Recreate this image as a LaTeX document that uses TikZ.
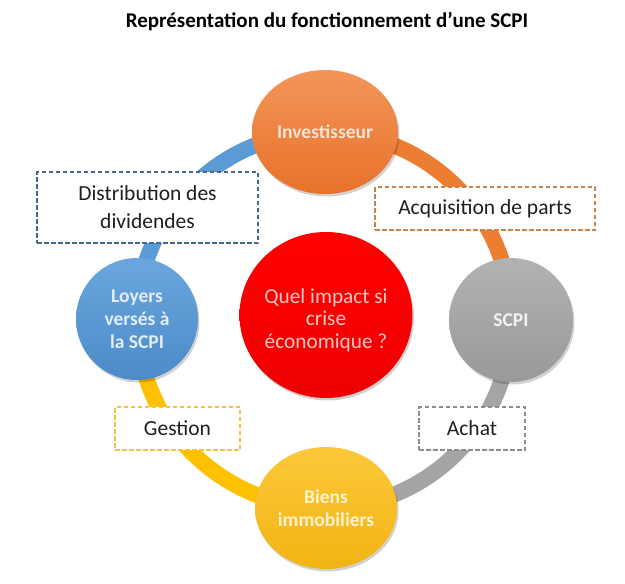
\documentclass[tikz,border=0pt]{standalone}
\usepackage{fontspec}
\setmainfont{Carlito}
\usetikzlibrary{shapes.geometric,shadows}
\pgfdeclarelayer{background}
\pgfsetlayers{background,main}
\definecolor{cOrange}{HTML}{ED7D31}
\definecolor{cOrangeTop}{HTML}{F39559}
\definecolor{cOrangeBot}{HTML}{E8722A}
\definecolor{cGrey}{HTML}{A5A5A5}
\definecolor{cGreyTop}{HTML}{B2B2B2}
\definecolor{cGreyBot}{HTML}{999999}
\definecolor{cBlue}{HTML}{5B9BD5}
\definecolor{cBlueTop}{HTML}{6BA6DD}
\definecolor{cBlueBot}{HTML}{4C8BC9}
\definecolor{cYellow}{HTML}{FFC000}
\definecolor{cYellowTop}{HTML}{FCC83A}
\definecolor{cYellowBot}{HTML}{F2B414}
\definecolor{cRed}{HTML}{FF0000}
\definecolor{cRedBot}{HTML}{EE0000}
\definecolor{tOrange}{HTML}{FBE3D3}
\definecolor{tGrey}{HTML}{F2F2F2}
\definecolor{tBlue}{HTML}{E2EEF9}
\definecolor{tYellow}{HTML}{FFF3CF}
\definecolor{tRed}{HTML}{F9C4C4}
\definecolor{bBlue}{HTML}{44698F}
\definecolor{bOrange}{HTML}{C8834A}
\definecolor{bYellow}{HTML}{F0C640}
\definecolor{bGrey}{HTML}{8C8C8C}
\begin{document}
\begin{tikzpicture}[x=1pt,y=1pt,
  bubble/.style={shape=ellipse, inner sep=-14pt, align=center,
    font=\fontsize{19.5}{23}\selectfont\bfseries,
    drop shadow={shadow xshift=1.5pt, shadow yshift=-2.5pt, opacity=0.18, fill=black}},
  ringarc/.style={line width=16pt},
  tagbox/.style={draw, line width=1.8pt, dash pattern=on 4.5pt off 2.5pt, fill=white,
    minimum height=43pt, inner sep=0pt, align=center,
    font=\fontsize{21.5}{28}\selectfont, text=black!88}
]
\useasboundingbox (0,0) rectangle (625,-584);
\node[font=\fontsize{21}{24}\selectfont\bfseries] (title) at (327,-22) {Représentation du fonctionnement d’une SCPI};

\node[bubble, minimum width=146pt, minimum height=124pt, top color=cOrangeTop, bottom color=cOrangeBot, text=tOrange] (inv) at (325,-132) {Investisseur};
\node[bubble, minimum width=124pt, minimum height=124pt, top color=cGreyTop, bottom color=cGreyBot, text=tGrey] (scpi) at (511,-320) {SCPI};
\node[bubble, minimum width=142pt, minimum height=122pt, top color=cYellowTop, bottom color=cYellowBot, text=tYellow] (biens) at (326,-508) {Biens\\immobiliers};
\node[bubble, minimum width=122pt, minimum height=122pt, top color=cBlueTop, bottom color=cBlueBot, text=tBlue] (loyers) at (137,-319) {Loyers\\versés à\\la SCPI};
\node[bubble, minimum width=173pt, minimum height=166pt, top color=cRed, bottom color=cRedBot, text=tRed, font=\fontsize{21.3}{22.5}\selectfont] (crise) at (326,-315) {\rule{0pt}{25pt}Quel impact si\\crise\\économique ?};

\begin{pgfonlayer}{background}
\draw[ringarc, cOrange] (inv.center) to[bend left=45] (scpi.center);
\draw[ringarc, cGrey] (scpi.center) to[bend left=45] (biens.center);
\draw[ringarc, cYellow] (biens.center) to[bend left=45] (loyers.center);
\draw[ringarc, cBlue] (loyers.center) to[bend left=45] (inv.center);
\end{pgfonlayer}

\node[tagbox, draw=bBlue, minimum width=221pt, minimum height=71pt] (distrib) at (147.5,-207.5) {Distribution des\\dividendes};
\node[tagbox, draw=bOrange, minimum width=220pt] (acq) at (485,-208.5) {Acquisition de parts};
\node[tagbox, draw=bYellow, minimum width=125pt] (gest) at (177.5,-428.5) {Gestion};
\node[tagbox, draw=bGrey, minimum width=106pt] (achat) at (472,-428.5) {Achat};
\end{tikzpicture}
\end{document}
